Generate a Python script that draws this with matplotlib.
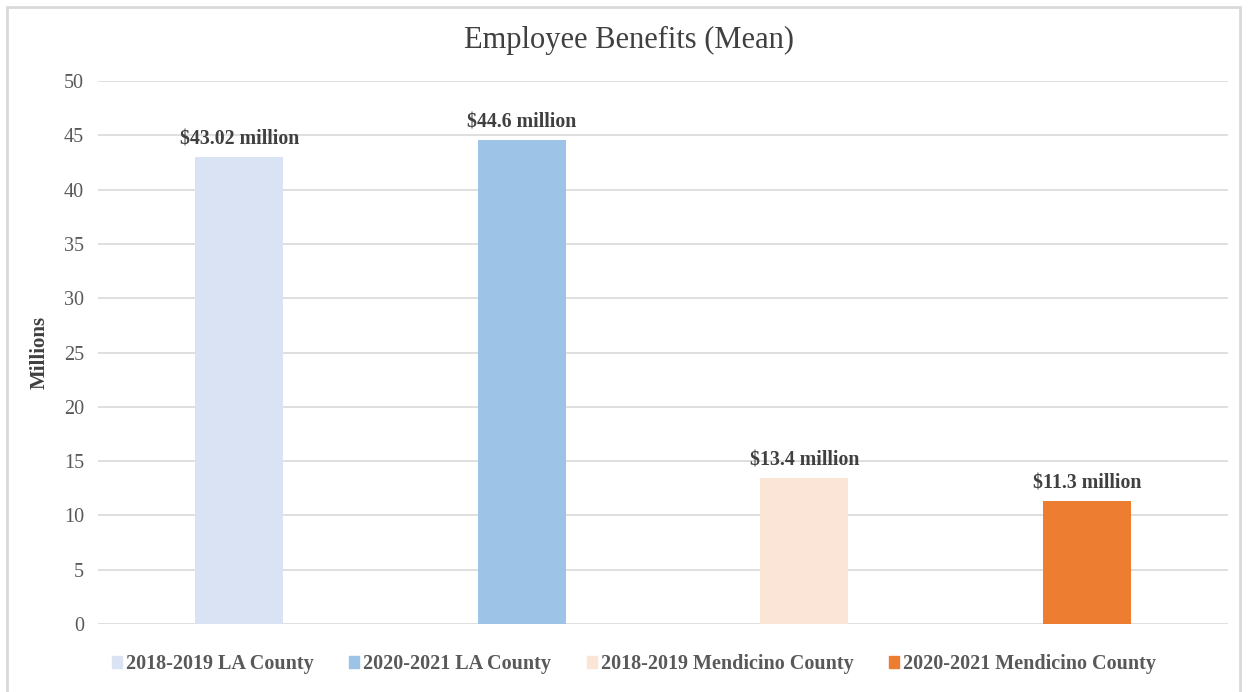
import matplotlib.pyplot as plt
import matplotlib.patches as mpatches
import numpy as np

# data
categories = ["2018-2019 LA County", "2020-2021 LA County",
              "2018-2019 Mendicino County", "2020-2021 Mendicino County"]
values = [43.02, 44.6, 13.4, 11.3]
bar_labels = ["$43.02 million", "$44.6 million", "$13.4 million", "$11.3 million"]
colors = ["#DAE3F3", "#9DC3E6", "#FBE5D6", "#ED7D31"]
yticks = list(range(0, 51, 5))

plt.rcParams['font.family'] = ['Liberation Serif', 'DejaVu Serif']

fig = plt.figure(figsize=(12.48, 6.92), dpi=100)
ax = fig.add_axes([98 / 1248, 1 - 624 / 692, 1130 / 1248, 543 / 692])

x = np.arange(len(categories))
bars = ax.bar(x, values, width=0.31, color=colors, zorder=3)
for xi, v, lab in zip(x, values, bar_labels):
    ax.text(xi, v + 0.7, lab, ha="center", va="bottom", fontsize=14.3,
            fontweight="bold", color="#404040")

ax.set_xlim(-0.5, len(categories) - 0.5)
ax.set_ylim(0, 50)
ax.set_yticks(yticks)
ax.set_xticks([])
ax.grid(axis="y", color="#D9D9D9", linewidth=1.2, zorder=0)
for s in ax.spines.values():
    s.set_visible(False)
ax.tick_params(axis="y", length=0, labelsize=14.5, labelcolor="#595959", pad=10)
ax.set_ylabel("Millions", fontsize=15, fontweight="bold", color="#404040")
ax.yaxis.set_label_coords(-(98 - 50) / 1130, 0.5)

fig.text(629 / 1248, 1 - 40 / 692, "Employee Benefits (Mean)", ha="center", va="center",
         fontsize=22, color="#404040")

handles = [mpatches.Patch(color=c, label=l) for c, l in zip(colors, categories)]
fig.legend(handles=handles, loc="center", bbox_to_anchor=(634 / 1248, 1 - 664 / 692),
           ncol=4, frameon=False, handlelength=0.5, handleheight=0.5,
           handletextpad=0.2, columnspacing=1.75,
           prop={"size": 14.5, "weight": "bold"}, labelcolor="#595959")

fig.add_artist(mpatches.Rectangle((7 / 1248, -0.05), 1233 / 1248, 1 - 7 / 692 + 0.05,
                                  transform=fig.transFigure, fill=False,
                                  edgecolor="#D9D9D9", linewidth=2))

fig.savefig("out.png", dpi=100)
